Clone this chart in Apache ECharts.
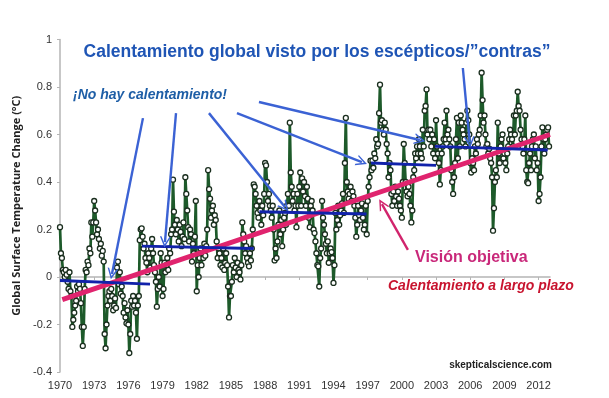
<!DOCTYPE html>
<html>
<head>
<meta charset="utf-8">
<script src="https://cdn.jsdelivr.net/npm/echarts@6/dist/echarts.min.js"></script>
<style>
  html, body { margin: 0; background: #fff; }
  #chart { width: 609px; height: 398px; }
</style>
</head>
<body>
<div id="chart"></div>
<script>
// tick labels on the time axis
const tickYears = [1970, 1973, 1976, 1979, 1982, 1985, 1988, 1991, 1994, 1997, 2000, 2003, 2006, 2009, 2012]

// monthly anomalies (°C), Jan..Dec per row
const temp1970s = [
  0.21, 0.10, 0.08, 0.03, 0.02, 0.00, 0.03, 0.01, -0.02, -0.05, 0.02, -0.06,
  -0.08, -0.21, -0.18, -0.15, -0.12, -0.10, -0.04, -0.06, -0.03, -0.05, -0.11, -0.21,
  -0.29, -0.21, -0.05, 0.03, 0.02, 0.065, 0.05, 0.12, 0.10, 0.23, 0.17, 0.23,
  0.32, 0.28, 0.23, 0.18, 0.20, 0.16, 0.12, 0.14, 0.09, 0.11, 0.065, -0.24,
  -0.30, -0.20, -0.12, -0.08, -0.06, -0.10, -0.05, -0.08, -0.14, -0.12, -0.09, -0.13,
  0.04, 0.065, -0.03, 0.02, -0.07, -0.04, -0.08, -0.15, -0.11, -0.17, -0.195, -0.14,
  -0.20, -0.32, -0.24, -0.10, -0.125, -0.08, -0.12, -0.10, -0.15, -0.26, -0.12, -0.08,
  0.155, 0.20, 0.205, 0.17, 0.12, 0.14, 0.08, 0.06, 0.02, 0.10, 0.08, 0.04,
  0.12, 0.16, 0.10, 0.05, 0.02, -0.02, -0.125, -0.05, 0.00, -0.04, 0.10, 0.06,
  -0.08, -0.05, 0.06, 0.02, 0.05, 0.08, 0.03, 0.12, 0.10, 0.18, 0.20, 0.41
]
const temp1980s = [
  0.275, 0.22, 0.18, 0.24, 0.20, 0.15, 0.22, 0.19, 0.13, 0.17, 0.23, 0.16,
  0.42, 0.35, 0.28, 0.21, 0.15, 0.20, 0.18, 0.065, 0.14, 0.10, 0.17, 0.32,
  -0.06, 0.05, 0.00, 0.08, 0.12, 0.05, 0.10, 0.08, 0.14, 0.09, 0.13, 0.20,
  0.45, 0.37, 0.33, 0.25, 0.28, 0.30, 0.22, 0.26, 0.24, 0.15, 0.08, 0.12,
  0.10, 0.05, 0.08, 0.04, 0.12, 0.03, 0.06, 0.10, 0.05, -0.04, -0.17, -0.08,
  -0.08, -0.02, 0.05, 0.02, 0.08, 0.04, 0.00, 0.06, 0.03, 0.02, -0.01, 0.05,
  0.23, 0.18, 0.15, 0.10, 0.13, 0.08, 0.06, 0.045, 0.10, 0.07, 0.12, 0.20,
  0.39, 0.38, 0.35, 0.30, 0.27, 0.25, 0.32, 0.28, 0.22, 0.30, 0.26, 0.35,
  0.48, 0.47, 0.40, 0.32, 0.35, 0.30, 0.28, 0.25, 0.30, 0.20, 0.07, 0.12,
  0.08, 0.15, 0.22, 0.28, 0.18, 0.24, 0.13, 0.20, 0.25, 0.27, 0.22, 0.30
]
const temp1990s = [
  0.35, 0.30, 0.65, 0.44, 0.38, 0.32, 0.35, 0.28, 0.30, 0.21, 0.35, 0.30,
  0.38, 0.44, 0.30, 0.415, 0.36, 0.40, 0.34, 0.30, 0.38, 0.33, 0.25, 0.21,
  0.30, 0.32, 0.28, 0.20, 0.185, 0.15, 0.10, 0.05, 0.045, -0.04, 0.08, 0.12,
  0.32, 0.25, 0.22, 0.18, 0.14, 0.10, 0.15, 0.06, 0.10, 0.12, 0.105, 0.08,
  -0.025, 0.05, 0.27, 0.20, 0.24, 0.30, 0.22, 0.26, 0.28, 0.31, 0.35, 0.27,
  0.48, 0.67, 0.40, 0.36, 0.33, 0.35, 0.38, 0.32, 0.36, 0.34, 0.30, 0.25,
  0.17, 0.22, 0.30, 0.26, 0.24, 0.28, 0.31, 0.25, 0.20, 0.22, 0.30, 0.18,
  0.32, 0.38, 0.42, 0.49, 0.45, 0.49, 0.46, 0.52, 0.50, 0.58, 0.55, 0.56,
  0.69, 0.81, 0.65, 0.66, 0.62, 0.60, 0.65, 0.62, 0.56, 0.52, 0.42, 0.48,
  0.45, 0.35, 0.30, 0.36, 0.32, 0.38, 0.34, 0.30, 0.36, 0.33, 0.30, 0.28
]
const temp2000s = [
  0.25, 0.40, 0.56, 0.48, 0.40, 0.36, 0.34, 0.38, 0.35, 0.30, 0.23, 0.28,
  0.42, 0.45, 0.52, 0.50, 0.55, 0.52, 0.58, 0.55, 0.52, 0.50, 0.62, 0.55,
  0.70, 0.72, 0.79, 0.60, 0.62, 0.58, 0.62, 0.55, 0.60, 0.52, 0.58, 0.50,
  0.66, 0.55, 0.52, 0.48, 0.39, 0.45, 0.52, 0.55, 0.58, 0.65, 0.58, 0.70,
  0.60, 0.62, 0.58, 0.55, 0.45, 0.40, 0.35, 0.42, 0.48, 0.58, 0.67, 0.50,
  0.65, 0.55, 0.68, 0.65, 0.62, 0.60, 0.58, 0.55, 0.65, 0.70, 0.66, 0.60,
  0.48, 0.44, 0.50, 0.48, 0.45, 0.55, 0.52, 0.58, 0.56, 0.60, 0.62, 0.68,
  0.86, 0.745, 0.65, 0.68, 0.60, 0.55, 0.56, 0.52, 0.54, 0.50, 0.48, 0.42,
  0.195, 0.29, 0.40, 0.45, 0.42, 0.65, 0.52, 0.48, 0.55, 0.58, 0.60, 0.50,
  0.52, 0.48, 0.45, 0.52, 0.55, 0.58, 0.62, 0.60, 0.58, 0.55, 0.68, 0.60
]
const temp2010s = [
  0.68, 0.70, 0.78, 0.72, 0.70, 0.62, 0.58, 0.55, 0.52, 0.58, 0.68, 0.45,
  0.40, 0.395, 0.48, 0.52, 0.45, 0.55, 0.58, 0.60, 0.50, 0.55, 0.45, 0.48,
  0.32, 0.35, 0.42, 0.55, 0.63, 0.58, 0.52, 0.58, 0.60, 0.62, 0.63, 0.55
]

// "no warming" flat steps: [fromYear, fromValue, toYear, toValue]
const flatSteps = [
  [1970.0, -0.015, 1977.9, -0.03],
  [1977.2, 0.13, 1987.0, 0.12],
  [1987.5, 0.275, 1996.9, 0.265],
  [1997.3, 0.48, 2003.0, 0.47],
  [2002.9, 0.55, 2012.8, 0.535]
]
// long term trend
const trendEnds = [[1970.2, -0.095], [2013.0, 0.60]]

// annotation arrows: [fromYear, fromValue, toYear, toValue]
const blueArrows = [
  [1977.28, 0.669, 1974.56, 0.013],
  [1980.18, 0.69, 1979.21, 0.147],
  [1983.07, 0.69, 1989.74, 0.295],
  [1985.53, 0.69, 1996.49, 0.484],
  [1987.46, 0.737, 2001.58, 0.577],
  [2005.35, 0.88, 2005.96, 0.568]
]
const pinkArrow = [2000.53, 0.114, 1998.25, 0.307]

const monthly = [...temp1970s, ...temp1980s, ...temp1990s, ...temp2000s, ...temp2010s]
const series = monthly.map((v, i) => [1970 + i / 12, v])

const chevron = 'path://M0,10 L5,0 L10,10 L8.6,10 L5,3 L1.4,10 Z'
const toLine = a => [{ coord: [a[0], a[1]] }, { coord: [a[2], a[3]] }]

const chart = echarts.init(document.getElementById('chart'))
chart.setOption({
  animation: false,
  grid: { left: 60, right: 59, top: 39.5, bottom: 26 },
  xAxis: {
    type: 'value',
    min: 1970,
    max: 2013,
    interval: 3,
    splitLine: { show: false },
    axisLine: { lineStyle: { color: '#b5b5b5', width: 1.5 } },
    axisTick: { show: true, length: 3, customValues: tickYears, lineStyle: { color: '#b5b5b5' } },
    axisLabel: {
      customValues: tickYears,
      color: '#333', fontSize: 11, margin: 8,
      fontFamily: 'Liberation Sans, Arial, sans-serif',
      formatter: v => String(Math.round(v))
    }
  },
  yAxis: {
    type: 'value',
    min: -0.4,
    max: 1,
    interval: 0.2,
    name: 'Global Surface Temperature Change (°C)',
    nameLocation: 'middle',
    nameGap: 36,
    nameTextStyle: { color: '#222', fontSize: 11, fontWeight: 'bold', fontFamily: 'Open Sans, sans-serif' },
    splitLine: { show: false },
    axisLine: { show: true, lineStyle: { color: '#b5b5b5', width: 1.5 } },
    axisTick: { show: true, length: 3, lineStyle: { color: '#b5b5b5' } },
    axisLabel: { color: '#333', fontSize: 11, margin: 8, fontFamily: 'Liberation Sans, Arial, sans-serif' }
  },
  series: [
    {
      type: 'line',
      data: series,
      symbol: 'circle',
      symbolSize: 5,
      showAllSymbol: true,
      lineStyle: { color: '#1d5a2a', width: 2.7 },
      itemStyle: { color: '#fff', borderColor: '#1a2e1e', borderWidth: 1.3 },
      z: 2
    },
    {
      type: 'line',
      data: trendEnds,
      symbol: 'none',
      lineStyle: { color: '#e0246e', width: 5 },
      z: 3
    },
    ...flatSteps.map(s => ({
      type: 'line',
      data: [[s[0], s[1]], [s[2], s[3]]],
      symbol: 'none',
      lineStyle: { color: '#1122aa', width: 3 },
      z: 4
    })),
    {
      type: 'line',
      data: [],
      z: 5,
      markLine: {
        silent: true,
        symbol: ['none', chevron],
        symbolSize: [11, 11],
        label: { show: false },
        lineStyle: { color: '#3b62d4', width: 2.4, type: 'solid' },
        itemStyle: { color: '#3b62d4' },
        data: blueArrows.map(toLine)
      }
    },
    {
      type: 'line',
      data: [],
      z: 5,
      markLine: {
        silent: true,
        symbol: ['none', chevron],
        symbolSize: [11, 11],
        label: { show: false },
        lineStyle: { color: '#d1246c', width: 2.4, type: 'solid' },
        itemStyle: { color: '#d1246c' },
        data: [toLine(pinkArrow)]
      }
    }
  ],
  graphic: [
    {
      type: 'text', x: 317, y: 52,
      style: {
        text: 'Calentamiento global visto por los escépticos/”contras”',
        fill: '#1f55b5', font: 'bold 17.5px "Liberation Sans", Arial, sans-serif',
        textAlign: 'center', textVerticalAlign: 'middle'
      }
    },
    {
      type: 'text', x: 73, y: 95,
      style: {
        text: '¡No hay calentamiento!',
        fill: '#1e5ea6', font: 'italic bold 14px "Liberation Sans", Arial, sans-serif',
        textAlign: 'left', textVerticalAlign: 'middle'
      }
    },
    {
      type: 'text', x: 415, y: 258,
      style: {
        text: 'Visión objetiva',
        fill: '#c9287a', font: 'bold 16px "Liberation Sans", Arial, sans-serif',
        textAlign: 'left', textVerticalAlign: 'middle'
      }
    },
    {
      type: 'text', x: 388, y: 286,
      style: {
        text: 'Calentamiento a largo plazo',
        fill: '#c8142f', font: 'italic bold 14px "Liberation Sans", Arial, sans-serif',
        textAlign: 'left', textVerticalAlign: 'middle'
      }
    },
    {
      type: 'text', x: 552, y: 365,
      style: {
        text: 'skepticalscience.com',
        fill: '#222', font: 'bold 10px "Liberation Sans", Arial, sans-serif',
        textAlign: 'right', textVerticalAlign: 'middle'
      }
    }
  ]
})
</script>
</body>
</html>
